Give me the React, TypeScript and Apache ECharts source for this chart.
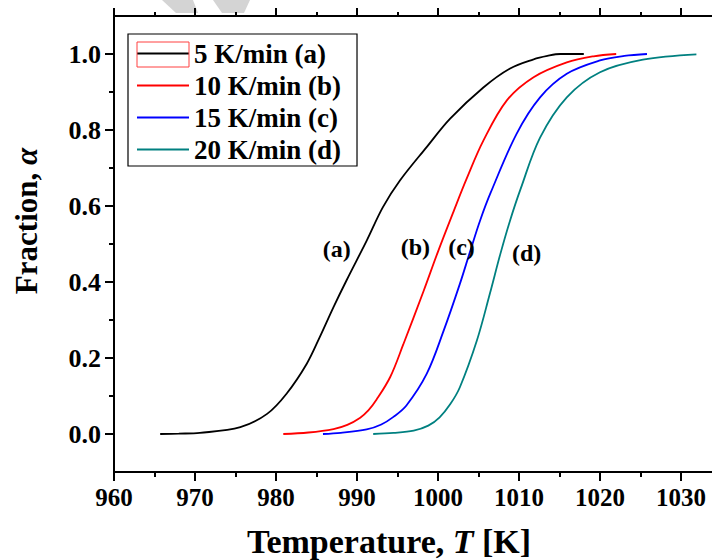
import { useEffect, useRef } from "react";
import * as echarts from "echarts";

const FONT = "'Liberation Serif', 'Times New Roman', serif";

const seriesNames = ["5 K/min (a)", "10 K/min (b)", "15 K/min (c)", "20 K/min (d)"];
const seriesColors = ["#000000", "#ff0000", "#0000ff", "#008080"];

const tempA = [965.7, 968, 970.6, 975.6, 978.9, 981.3, 983.8, 985.4, 987.1, 988.7, 991.2, 993.2, 995.3, 998.6, 1001.5, 1005.6, 1008.9, 1011.8, 1013.5, 1015.1, 1018];
const alphaA = [0, 0.001, 0.003, 0.018, 0.053, 0.106, 0.185, 0.255, 0.334, 0.404, 0.509, 0.597, 0.667, 0.755, 0.83, 0.912, 0.962, 0.986, 0.995, 1.0, 1.0];

const tempB = [980.9, 984, 987.1, 988.8, 990.4, 991.4, 992.4, 994.1, 995.7, 998.2, 1000.0, 1002.0, 1003.5, 1005.6, 1008.5, 1011.8, 1015.9, 1019.2, 1022];
const alphaB = [0, 0.004, 0.013, 0.024, 0.043, 0.062, 0.09, 0.15, 0.235, 0.375, 0.48, 0.59, 0.67, 0.772, 0.878, 0.939, 0.978, 0.994, 1.0];

const tempC = [985.8, 988, 991.2, 993, 994.5, 996.1, 998.6, 1000.7, 1002.7, 1004, 1005.2, 1006.5, 1009.7, 1012.6, 1015.9, 1020, 1023, 1025.8];
const alphaC = [0, 0.003, 0.012, 0.025, 0.045, 0.075, 0.158, 0.272, 0.395, 0.483, 0.562, 0.635, 0.79, 0.886, 0.948, 0.983, 0.995, 1.0];

const tempD = [992.0, 994.5, 997, 998.8, 1000.2, 1001.5, 1002.7, 1004.8, 1006.4, 1007.7, 1008.9, 1010.2, 1012.6, 1015.9, 1020, 1025.3, 1031.9];
const alphaD = [0, 0.003, 0.009, 0.022, 0.044, 0.078, 0.123, 0.246, 0.369, 0.474, 0.562, 0.645, 0.78, 0.886, 0.952, 0.985, 0.999];

const curveLabels = ["(a)", "(b)", "(c)", "(d)"];
const labelT = [987.5, 997.2, 1002.9, 1010.95];
const labelAlpha = [0.487, 0.493, 0.493, 0.477];

const xTickMin = 960;
const xTickMax = 1040;
const xTickStep = 10;
const xLabels = [960, 970, 980, 990, 1000, 1010, 1020, 1030];
const yMin = -0.1;
const yMax = 1.1;
const yMajor = [0, 0.2, 0.4, 0.6, 0.8, 1.0];
const yMinor = [0.1, 0.3, 0.5, 0.7, 0.9];

const temps = [tempA, tempB, tempC, tempD];
const alphas = [alphaA, alphaB, alphaC, alphaD];

export default function App() {
  const ref = useRef<HTMLDivElement>(null);
  useEffect(() => {
    document.body.style.margin = "0";
    document.body.style.overflow = "hidden";
    if (!ref.current) return;
    const chart = echarts.init(ref.current, null, { renderer: "svg" });
    const axisLineStyle = { color: "#000", width: 2 };
    const lineSeries = seriesNames.map((name, i) => ({
      name,
      type: "line",
      xAxisIndex: 0,
      yAxisIndex: 0,
      data: temps[i].map((t, j) => [t, alphas[i][j]]),
      showSymbol: false,
      symbol: "none",
      smooth: 0.35,
      color: seriesColors[i],
      itemStyle: { color: seriesColors[i] },
      lineStyle: { color: seriesColors[i], width: 1.8 },
      z: 3,
    }));
    chart.setOption({
      animation: false,
      backgroundColor: "#ffffff",
      grid: { left: 114, top: 16, right: -50, bottom: 88, outerBoundsMode: "none", containLabel: false },
      legend: {
        data: seriesNames,
        orient: "vertical",
        left: 128,
        top: 34,
        icon: "rect",
        itemWidth: 52,
        itemHeight: 2,
        itemGap: 5,
        padding: [6, 16, 3, 9],
        borderColor: "#000",
        borderWidth: 1.2,
        backgroundColor: "#fff",
        selectedMode: false,
        textStyle: { fontFamily: FONT, fontSize: 27, fontWeight: "bold", color: "#000" },
      },
      xAxis: [
        {
          type: "value",
          position: "bottom",
          min: xTickMin,
          max: xTickMax,
          interval: xTickStep,
          axisLine: { onZero: false, lineStyle: axisLineStyle },
          axisTick: { inside: false, length: 9, lineStyle: axisLineStyle },
          minorTick: { show: true, splitNumber: 2, length: 5, lineStyle: axisLineStyle },
          splitLine: { show: false },
          minorSplitLine: { show: false },
          axisLabel: {
            customValues: xLabels,
            formatter: (v: number) => String(v),
            fontFamily: FONT,
            fontSize: 25,
            fontWeight: "bold",
            color: "#000",
            margin: 13,
          },
        },
        {
          type: "value",
          position: "top",
          min: xTickMin,
          max: xTickMax,
          interval: xTickStep,
          axisLine: { onZero: false, lineStyle: axisLineStyle },
          axisTick: { inside: false, length: 8, lineStyle: axisLineStyle },
          minorTick: { show: true, splitNumber: 2, length: 4, lineStyle: axisLineStyle },
          splitLine: { show: false },
          minorSplitLine: { show: false },
          axisLabel: { show: false },
        },
      ],
      yAxis: [
        {
          type: "value",
          position: "left",
          min: yMin,
          max: yMax,
          axisLine: { onZero: false, lineStyle: axisLineStyle },
          axisTick: { inside: false, length: 9, lineStyle: axisLineStyle, customValues: yMajor },
          splitLine: { show: false },
          axisLabel: {
            customValues: yMajor,
            formatter: (v: number) => v.toFixed(1),
            fontFamily: FONT,
            fontSize: 26,
            fontWeight: "bold",
            color: "#000",
            margin: 13,
          },
        },
        {
          type: "value",
          position: "left",
          min: yMin,
          max: yMax,
          axisLine: { show: false, onZero: false },
          axisTick: { inside: false, length: 5, lineStyle: axisLineStyle, customValues: yMinor },
          splitLine: { show: false },
          axisLabel: { show: false },
        },
      ],
      series: [
        ...lineSeries,
        {
          name: "labels",
          type: "scatter",
          xAxisIndex: 0,
          yAxisIndex: 0,
          silent: true,
          symbol: "circle",
          symbolSize: 0,
          itemStyle: { color: "#000000", opacity: 1 },
          data: curveLabels.map((n, i) => ({ name: n, value: [labelT[i], labelAlpha[i]] })),
          label: {
            show: true,
            position: "inside",
            formatter: "{b}",
            fontFamily: FONT,
            fontSize: 24,
            fontWeight: "bold",
            color: "#000000",
            opacity: 1,
            textBorderWidth: 0,
          },
          z: 4,
        },
      ],
      graphic: [
        {
          type: "polygon",
          silent: true,
          shape: { points: [[162, 0], [193, 0], [198, 13], [176, 13]] },
          style: { fill: "#d4d4d4" },
        },
        {
          type: "polygon",
          silent: true,
          shape: { points: [[213, 0], [250, 0], [244, 13], [222, 13]] },
          style: { fill: "#d4d4d4" },
        },
        {
          type: "rect",
          silent: true,
          z: 100,
          shape: { x: 137, y: 42, width: 52, height: 25 },
          style: { fill: "none", stroke: "#ff4040", lineWidth: 1 },
        },
        {
          type: "text",
          silent: true,
          x: 389,
          y: 541,
          style: {
            text: "{b|Temperature, }{i|T}{b| [K]}",
            align: "center",
            verticalAlign: "middle",
            rich: {
              b: { fontFamily: FONT, fontSize: 34, fontWeight: "bold", fill: "#000" },
              i: { fontFamily: FONT, fontSize: 34, fontWeight: "bold", fontStyle: "italic", fill: "#000" },
            },
          },
        },
        {
          type: "text",
          silent: true,
          x: 26,
          y: 221,
          rotation: Math.PI / 2,
          style: {
            text: "{b|Fraction, }{i|α}",
            align: "center",
            verticalAlign: "middle",
            rich: {
              b: { fontFamily: FONT, fontSize: 31, fontWeight: "bold", fill: "#000" },
              i: { fontFamily: FONT, fontSize: 31, fontWeight: "bold", fontStyle: "italic", fill: "#000" },
            },
          },
        },
      ],
    });
    return () => chart.dispose();
  }, []);
  return <div ref={ref} style={{ width: 712, height: 560 }} />;
}
